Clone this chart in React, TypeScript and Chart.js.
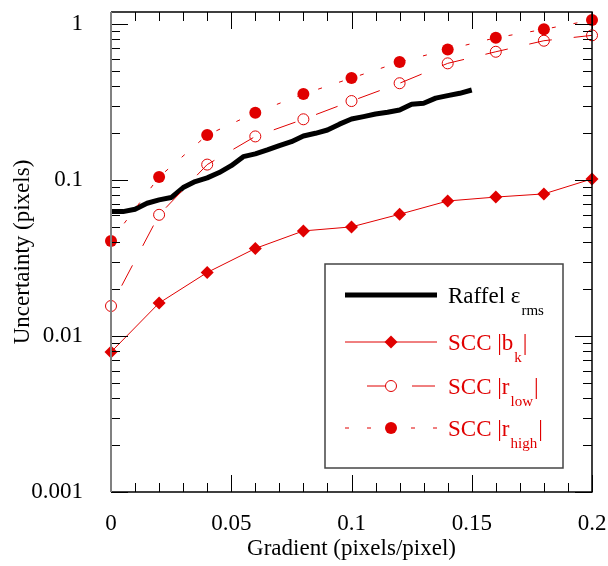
import { useEffect, useRef } from 'react';
import { Chart, registerables } from 'chart.js';

Chart.register(...registerables);

// Sample gradients for the SCC estimators (pixels/pixel)
const gradients = [0, 0.02, 0.04, 0.06, 0.08, 0.1, 0.12, 0.14, 0.16, 0.18, 0.2];

// Raffel rms curve is sampled more finely and stops at 0.15
const raffelGradients = [
  0, 0.005, 0.01, 0.015, 0.02, 0.025, 0.03, 0.035, 0.04, 0.045, 0.05,
  0.055, 0.06, 0.065, 0.07, 0.075, 0.08, 0.085, 0.09, 0.095, 0.1,
  0.105, 0.11, 0.115, 0.12, 0.125, 0.13, 0.135, 0.14, 0.145, 0.15,
];
const raffelRms = [
  0.0629, 0.0629, 0.0652, 0.0712, 0.0748, 0.0774, 0.0897, 0.098, 0.1035, 0.112, 0.124,
  0.1417, 0.1475, 0.1564, 0.1667, 0.1768, 0.1923, 0.2, 0.2101, 0.229, 0.247,
  0.256, 0.266, 0.273, 0.282, 0.307, 0.312, 0.336, 0.349, 0.361, 0.379,
];

const sccBk = [0.0079, 0.0163, 0.0256, 0.0365, 0.0473, 0.0502, 0.0605, 0.0736, 0.078, 0.0817, 0.102];
const sccRLow = [0.0156, 0.06, 0.126, 0.191, 0.246, 0.322, 0.419, 0.562, 0.667, 0.785, 0.85];
const sccRHigh = [0.0408, 0.105, 0.195, 0.271, 0.357, 0.452, 0.573, 0.69, 0.82, 0.929, 1.066];

const xTickLabels = ['0', '0.05', '0.1', '0.15', '0.2'];
const yTickLabels = ['0.001', '0.01', '0.1', '1'];

const legendMain = ['Raffel ε', 'SCC |b', 'SCC |r', 'SCC |r'];
const legendSub = ['rms', 'k', 'low', 'high'];
const legendTail = ['', '|', '|', '|'];

const RED = '#e00000';
const FONT = '"Liberation Serif", "Times New Roman", serif';

const toPoints = (xs: number[], ys: number[]) => xs.map((x, i) => ({ x, y: ys[i] }));

// Inside tick marks on all four sides plus the frame
const framePlugin = {
  id: 'frameTicks',
  afterDraw(chart: any) {
    const { ctx, chartArea: a, scales } = chart;
    const xs = scales.x;
    const ys = scales.y;
    ctx.save();
    ctx.strokeStyle = '#000';
    ctx.lineWidth = 1;
    ctx.beginPath();
    for (let i = 0; i <= 20; i++) {
      const px = Math.round(xs.getPixelForValue(i / 100)) + 0.5;
      const len = i % 5 === 0 ? 17 : 9;
      ctx.moveTo(px, a.bottom);
      ctx.lineTo(px, a.bottom - len);
      ctx.moveTo(px, a.top);
      ctx.lineTo(px, a.top + len);
    }
    for (let d = -3; d <= 0; d++) {
      for (let m = 1; m <= 9; m++) {
        const v = m * Math.pow(10, d);
        if (v > ys.max * 1.0001) break;
        const py = Math.round(ys.getPixelForValue(v)) + 0.5;
        const len = m === 1 ? 17 : 9;
        ctx.moveTo(a.left, py);
        ctx.lineTo(a.left + len, py);
        ctx.moveTo(a.right, py);
        ctx.lineTo(a.right - len, py);
      }
    }
    ctx.stroke();

    ctx.lineWidth = 1.5;
    ctx.strokeStyle = '#000';
    ctx.beginPath();
    ctx.moveTo(a.left, a.top);
    ctx.lineTo(a.right, a.top);
    ctx.lineTo(a.right, a.bottom);
    ctx.lineTo(a.left, a.bottom);
    ctx.stroke();
    ctx.strokeStyle = '#808080';
    ctx.lineWidth = 2;
    ctx.beginPath();
    ctx.moveTo(a.left, a.top);
    ctx.lineTo(a.left, a.bottom);
    ctx.stroke();
    ctx.restore();
  },
};

// Legend box with subscripted labels
const legendPlugin = {
  id: 'subLegend',
  afterDraw(chart: any) {
    const { ctx } = chart;
    const box = { l: 325, t: 264, r: 563, b: 468 };
    const rowsY = [295, 342, 386, 428];
    const lineL = 345;
    const lineR = 437;
    const markX = 391;
    const textX = 448;
    ctx.save();
    ctx.fillStyle = '#fff';
    ctx.fillRect(box.l, box.t, box.r - box.l, box.b - box.t);
    ctx.strokeStyle = '#444';
    ctx.lineWidth = 1.5;
    ctx.strokeRect(box.l, box.t, box.r - box.l, box.b - box.t);

    [0, 1, 2, 3].forEach((i) => {
      const ds = chart.data.datasets[i];
      const y = rowsY[i];
      ctx.save();
      ctx.strokeStyle = ds.borderColor;
      ctx.lineWidth = ds.borderWidth;
      ctx.setLineDash(ds.borderDash || []);
      ctx.lineDashOffset = ds.legendDashOffset || 0;
      ctx.beginPath();
      ctx.moveTo(lineL, y);
      ctx.lineTo(lineR, y);
      ctx.stroke();
      ctx.setLineDash([]);
      const r = ds.pointRadius;
      if (r > 0) {
        ctx.beginPath();
        if (ds.pointStyle === 'rectRot') {
          ctx.moveTo(markX - r, y);
          ctx.lineTo(markX, y - r);
          ctx.lineTo(markX + r, y);
          ctx.lineTo(markX, y + r);
          ctx.closePath();
        } else {
          ctx.arc(markX, y, r, 0, Math.PI * 2);
        }
        if (ds.pointBorderWidth > 0) {
          ctx.fillStyle = '#fff';
          ctx.fill();
          ctx.strokeStyle = ds.pointBorderColor;
          ctx.lineWidth = ds.pointBorderWidth;
          ctx.stroke();
        } else {
          ctx.fillStyle = ds.pointBackgroundColor;
          ctx.fill();
        }
      }
      ctx.restore();

      ctx.fillStyle = i === 0 ? '#000' : RED;
      ctx.textBaseline = 'alphabetic';
      ctx.textAlign = 'left';
      ctx.font = `23px ${FONT}`;
      const base = y + 8;
      ctx.fillText(legendMain[i], textX, base);
      let cx = textX + ctx.measureText(legendMain[i]).width + 1;
      ctx.font = `15px ${FONT}`;
      ctx.fillText(legendSub[i], cx, base + 12);
      cx += ctx.measureText(legendSub[i]).width + 1;
      if (legendTail[i]) {
        ctx.font = `23px ${FONT}`;
        ctx.fillText(legendTail[i], cx, base);
      }
    });
    ctx.restore();
  },
};

export default function App() {
  const canvasRef = useRef<HTMLCanvasElement | null>(null);

  useEffect(() => {
    const canvas = canvasRef.current;
    if (!canvas) return;
    const chart = new Chart(canvas, {
      type: 'line',
      data: {
        datasets: [
          {
            label: 'Raffel rms',
            data: toPoints(raffelGradients, raffelRms),
            borderColor: '#000',
            backgroundColor: '#000',
            borderWidth: 5,
            borderJoinStyle: 'round',
            pointRadius: 0,
            order: 10,
            clip: false,
          },
          {
            label: 'SCC bk',
            data: toPoints(gradients, sccBk),
            borderColor: RED,
            backgroundColor: RED,
            borderWidth: 1,
            pointStyle: 'rectRot',
            pointRadius: 6.5,
            pointBackgroundColor: RED,
            pointBorderColor: RED,
            pointBorderWidth: 0,
            order: 3,
            clip: false,
          },
          {
            label: 'SCC r low',
            data: toPoints(gradients, sccRLow),
            borderColor: RED,
            backgroundColor: RED,
            borderWidth: 1,
            borderDash: [23, 22],
            borderDashOffset: 22,
            legendDashOffset: 23,
            pointStyle: 'circle',
            pointRadius: 5.5,
            pointBackgroundColor: 'rgba(0,0,0,0)',
            pointBorderColor: RED,
            pointBorderWidth: 1,
            order: 2,
            clip: false,
          },
          {
            label: 'SCC r high',
            data: toPoints(gradients, sccRHigh),
            borderColor: RED,
            backgroundColor: RED,
            borderWidth: 1,
            borderDash: [4, 18],
            borderDashOffset: 0,
            legendDashOffset: 0,
            pointStyle: 'circle',
            pointRadius: 6,
            pointBackgroundColor: RED,
            pointBorderColor: RED,
            pointBorderWidth: 0,
            order: 1,
            clip: false,
          },
        ] as any,
      },
      options: {
        responsive: false,
        animation: false,
        events: [],
        layout: { padding: { left: 0, top: 12, right: 16, bottom: 0 } },
        plugins: {
          legend: { display: false },
          tooltip: { enabled: false },
        },
        elements: { line: { tension: 0 } },
        scales: {
          x: {
            type: 'linear',
            min: 0,
            max: 0.2,
            grid: { display: false },
            border: { display: false },
            afterBuildTicks: (scale: any) => {
              scale.ticks = xTickLabels.map((t) => ({ value: parseFloat(t) }));
            },
            ticks: {
              autoSkip: false,
              maxRotation: 0,
              padding: 10,
              color: '#000',
              font: { family: FONT, size: 23 },
              callback: (v: any) => {
                const s = xTickLabels.find((t) => Math.abs(parseFloat(t) - v) < 1e-9);
                return s ?? '';
              },
            },
            title: {
              display: true,
              text: 'Gradient (pixels/pixel)',
              color: '#000',
              font: { family: FONT, size: 23 },
              padding: 3,
            },
            afterFit: (scale: any) => {
              scale.height = 74;
              scale.paddingLeft = 0;
              scale.paddingRight = 0;
            },
          },
          y: {
            type: 'logarithmic',
            min: 0.001,
            max: 1.2,
            grid: { display: false },
            border: { display: false },
            afterBuildTicks: (scale: any) => {
              scale.ticks = yTickLabels.map((t) => ({ value: parseFloat(t), major: true }));
            },
            ticks: {
              autoSkip: false,
              padding: 20,
              color: '#000',
              font: { family: FONT, size: 23 },
              callback: (v: any) => {
                const s = yTickLabels.find((t) => Math.abs(parseFloat(t) - v) < 1e-12);
                return s ?? '';
              },
            },
            title: {
              display: true,
              text: 'Uncertainty (pixels)',
              color: '#000',
              font: { family: FONT, size: 23 },
              padding: 9,
            },
            afterFit: (scale: any) => {
              scale.width = 111;
              scale.paddingTop = 0;
              scale.paddingBottom = 0;
            },
          },
        },
      } as any,
      plugins: [framePlugin, legendPlugin],
    });
    return () => chart.destroy();
  }, []);

  return (
    <div style={{ position: 'absolute', left: 0, top: 0, width: 608, height: 566, background: '#fff' }}>
      <canvas ref={canvasRef} width={608} height={566} style={{ display: 'block' }} />
    </div>
  );
}
